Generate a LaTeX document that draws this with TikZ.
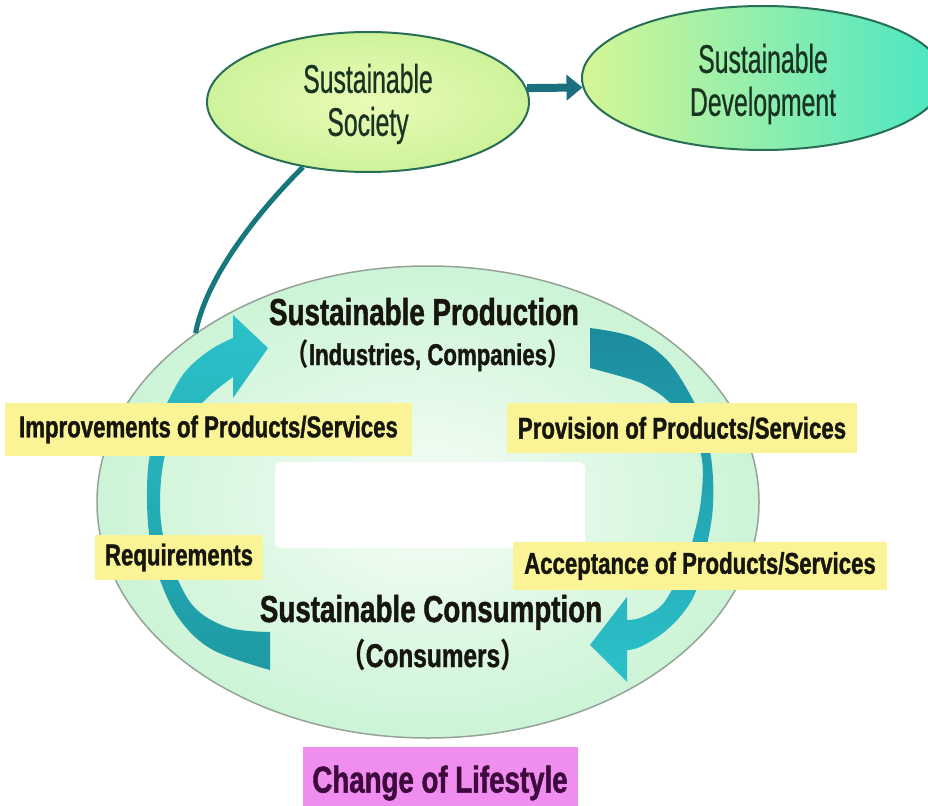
\documentclass[tikz,border=0pt]{standalone}
\usepackage{fontspec}
\setmainfont{Liberation Sans}
\newfontfamily\lblfont{Liberation Sans}[FakeStretch=0.74,FakeBold=1.2]
\newfontfamily\elfont{Liberation Sans}[FakeStretch=0.62,FakeBold=0.6]
\newfontfamily\cjkfont{Noto Sans CJK SC}[FakeStretch=0.74]
\usetikzlibrary{arrows.meta,shapes.geometric,calc}
\definecolor{elborder}{RGB}{40,110,85}
\definecolor{socin}{RGB}{234,251,182}
\definecolor{socout}{RGB}{206,243,156}
\definecolor{devleft}{RGB}{214,246,150}
\definecolor{devright}{RGB}{72,230,196}
\definecolor{mainin}{RGB}{246,253,247}
\definecolor{mainout}{RGB}{204,244,214}
\definecolor{mainborder}{RGB}{150,162,152}
\definecolor{connteal}{RGB}{22,120,122}
\definecolor{toparrowc}{RGB}{26,112,126}
\definecolor{arrowhi}{RGB}{44,194,202}
\definecolor{arrowlo}{RGB}{30,154,164}
\definecolor{arrowdark}{RGB}{28,140,158}
\definecolor{labyellow}{RGB}{250,244,150}
\definecolor{lifepink}{RGB}{240,142,240}
\definecolor{lifetext}{RGB}{62,10,62}
\definecolor{eltextc}{RGB}{26,52,34}
\definecolor{labtext}{RGB}{22,22,14}
\begin{document}
\begin{tikzpicture}[x=1pt,y=-1pt,
  topell/.style={ellipse, draw=elborder, line width=2pt, inner sep=0pt},
  eltext/.style={font=\elfont\fontsize{40}{43}\selectfont, text=eltextc, align=center, inner sep=0pt},
  headtext/.style={font=\lblfont\bfseries\fontsize{37.5}{40}\selectfont, text=labtext, anchor=base, inner sep=0pt},
  subtext/.style={font=\lblfont\bfseries\fontsize{30}{32}\selectfont, text=labtext, anchor=base, inner sep=0pt},
  ylab/.style={fill=labyellow, font=\lblfont\bfseries\fontsize{30}{32}\selectfont, text=labtext, inner sep=0pt},
  conn/.style={draw=connteal, line width=5pt},
  toparrow/.style={draw=toparrowc, line width=8pt, -{Triangle[length=16pt,width=25pt]}}
]
\useasboundingbox (0,0) rectangle (928,805);
\fill[white] (0,0) rectangle (928,805);

% main ellipse
\node[ellipse, draw=mainborder, line width=1.5pt, inner color=mainin, outer color=mainout,
      minimum width=662pt, minimum height=472pt, inner sep=0pt] (mainell) at (428,502) {};
\node[fill=white, rounded corners=6pt, minimum width=310pt, minimum height=86pt, inner sep=0pt] (blank) at (430,505) {};

% top ellipses
\node[topell, inner color=socin, outer color=socout, minimum width=322pt, minimum height=140pt] (society) at (368,102) {};
\node[eltext] (soctext) at (368,104) {Sustainable\\Society};
\node[topell, left color=devleft, right color=devright, minimum width=362pt, minimum height=144pt] (dev) at (763,78) {};
\node[eltext] (devtext) at (763,84) {Sustainable\\Development};

\draw[toparrow] (society.5) -- (dev.183);
\draw[conn] (society.225) .. controls ($(society.225)+(-50,50)$) and ($(mainell.144)+(10,-53)$) .. (mainell.144);

% left cycle arrow (pointing up-right)
\shade[top color=arrowhi, bottom color=arrowlo]
  plot[smooth, tension=0.6] coordinates {(270,670) (213,650) (180,620) (160,580) (150,540) (147,500) (149,460) (158,425) (167,403) (185,372) (210,350) (233,338)}
  -- (233,315) -- (268,348) -- (233,398) -- (233,377)
  -- plot[smooth, tension=0.6] coordinates {(233,377) (216,390) (202,403) (180,425) (165,455) (160,500) (164,540) (178,580) (197,610) (230,628) (270,632)}
  -- cycle;

% right cycle arrow (pointing down-left)
\shade[top color=arrowdark, bottom color=arrowhi]
  plot[smooth, tension=0.6] coordinates {(590,328) (633,337) (667,360) (693,400) (705,430) (712,465) (713,505) (708,540) (697,588) (683,613) (663,633) (640,647) (627,650)}
  -- (627,682) -- (590,645) -- (627,597) -- (627,620)
  -- plot[smooth, tension=0.6] coordinates {(627,620) (640,618) (660,607) (673,588) (686,562) (694,535) (701,500) (702,460) (690,425) (667,400) (650,388) (633,380) (590,368)}
  -- cycle;

% yellow labels
\node[ylab, minimum width=407pt, minimum height=53pt] (imp) at (208.5,429.5) {Improvements of Products/Services};
\node[ylab, minimum width=350pt, minimum height=50pt] (prov) at (682,428) {Provision of Products/Services};
\node[ylab, minimum width=168pt, minimum height=45pt] (req) at (179,557.5) {Requirements};
\node[ylab, minimum width=374pt, minimum height=48pt] (acc) at (700,566) {Acceptance of Products/Services};

% headings
\node[headtext] (prod) at (424,325) {Sustainable Production};
\node[subtext] (ind) at (428,365) {{\cjkfont （}Industries, Companies{\cjkfont ）}};
\node[headtext] (cons) at (431,622) {Sustainable Consumption};
\node[subtext, font=\lblfont\bfseries\fontsize{33}{35}\selectfont] (consumers) at (433,667) {{\cjkfont （}Consumers{\cjkfont ）}};

% change of lifestyle
\node[fill=lifepink, text=lifetext, font=\lblfont\bfseries\fontsize{37.4}{40}\selectfont,
      minimum width=275pt, minimum height=72pt, inner sep=0pt] (life) at (440,783) {Change of Lifestyle};
\end{tikzpicture}
\end{document}
